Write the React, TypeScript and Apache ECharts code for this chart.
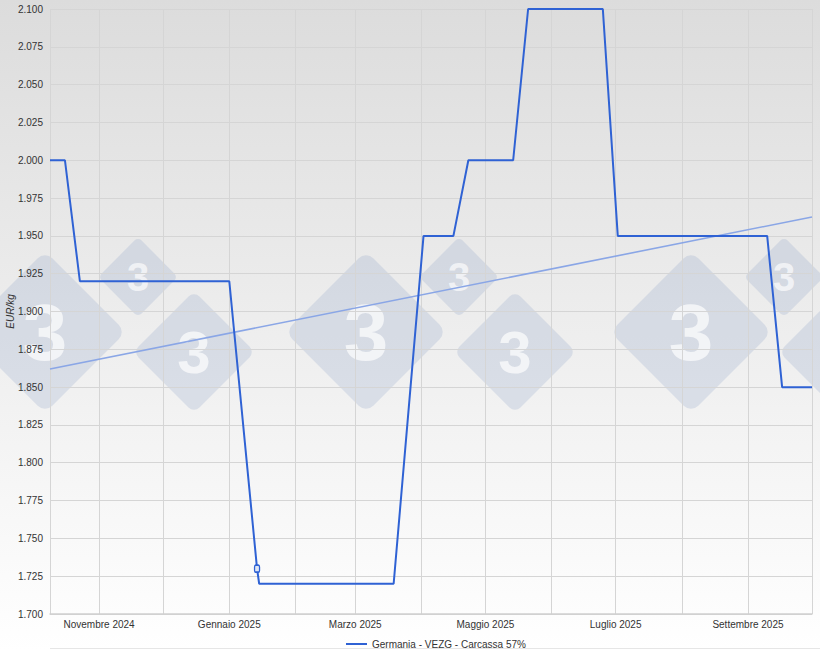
import React, { useEffect, useRef } from "react";
import * as echarts from "echarts";

// VEZG weekly reference price, pig carcass 57% lean (EUR/kg), at each price change
const dates = [
  "2024-10-09", "2024-10-16", "2024-10-23", "2025-01-01", "2025-01-14",
  "2025-01-15", "2025-03-19", "2025-04-02", "2025-04-16", "2025-04-23",
  "2025-05-14", "2025-05-21", "2025-06-25", "2025-07-02", "2025-09-10",
  "2025-09-17", "2025-10-01",
];
const prices = [
  2.0, 2.0, 1.92, 1.92, 1.73,
  1.72, 1.72, 1.95, 1.95, 2.0,
  2.0, 2.1, 2.1, 1.95, 1.95,
  1.85, 1.85,
];

// Linear trend over the period
const trendDates = ["2024-10-09", "2025-10-01"];
const trendValues = [1.862, 1.9625];

const seriesName = "Germania - VEZG - Carcassa 57%";
const yAxisName = "EUR/kg";
const monthNames = [
  "Gennaio", "Febbraio", "Marzo", "Aprile", "Maggio", "Giugno",
  "Luglio", "Agosto", "Settembre", "Ottobre", "Novembre", "Dicembre",
];
const labeledMonths = [10, 0, 2, 4, 6, 8];
const markedDate = "2025-01-14";

const FONT = "'Liberation Sans', Arial, sans-serif";
const CANVAS_W = 820;

// Rounded diamond badge with a "3" mark, used as a background watermark
function diamond(cx: number, cy: number, half: number, fontSize: number) {
  const side = half * Math.SQRT2;
  const children: any[] = [
    {
      type: "rect",
      rotation: Math.PI / 4,
      shape: { x: -side / 2, y: -side / 2, width: side, height: side, r: side * 0.09 },
      style: { fill: "rgba(150,170,205,0.27)" },
      z: -10,
    },
  ];
  if (cx < CANVAS_W - fontSize * 0.3) {
    children.push({
      type: "text",
      x: 0,
      y: 0,
      z: -9,
      style: {
        text: "3",
        fontSize,
        fontWeight: "bold",
        fontFamily: FONT,
        fill: "rgba(255,255,255,0.68)",
        align: "center",
        verticalAlign: "middle",
      },
    });
  }
  return { type: "group", x: cx, y: cy, z: -10, children };
}

function logo(cx: number) {
  return [
    diamond(cx, 332, 81, 80),
    diamond(cx + 93, 277, 40, 40),
    diamond(cx + 149, 352, 61, 60),
  ];
}

export default function App() {
  const ref = useRef<HTMLDivElement>(null);

  useEffect(() => {
    if (!ref.current) return;
    const chart = echarts.init(ref.current, undefined, { renderer: "svg" });

    const mainData = dates.map((d, i) =>
      d === markedDate
        ? {
            value: [d, prices[i]],
            symbol: "roundRect",
            symbolSize: [5, 7],
            itemStyle: { color: "#dfe6f5", borderColor: "#2f62d4", borderWidth: 1.5 },
          }
        : { value: [d, prices[i]] }
    );

    const option = {
      animation: false,
      useUTC: true,
      backgroundColor: {
        type: "linear",
        x: 0,
        y: 0,
        x2: 0,
        y2: 1,
        colorStops: [
          { offset: 0, color: "#dcdcdc" },
          { offset: 1, color: "#ffffff" },
        ],
      },
      textStyle: { fontFamily: FONT },
      graphic: [
        ...logo(45),
        ...logo(366),
        ...logo(691),
        {
          type: "line",
          shape: { x1: 50, y1: 648.5, x2: 820, y2: 648.5 },
          style: { stroke: "#e6e6e6", lineWidth: 1 },
        },
      ],
      grid: {
        left: 50,
        right: 8,
        top: 9,
        bottom: 37,
        containLabel: false,
        outerBoundsMode: "none",
      },
      legend: {
        data: [{ name: seriesName, icon: "rect" }],
        left: 341,
        top: 634,
        itemWidth: 21,
        itemHeight: 2,
        itemGap: 5,
        textStyle: { fontSize: 10, color: "#333", fontFamily: FONT },
      },
      xAxis: {
        type: "time",
        min: dates[0],
        max: dates[dates.length - 1],
        minInterval: 28 * 86400000,
        maxInterval: 31 * 86400000,
        axisLine: { show: true, lineStyle: { color: "#cfcfcf", width: 1.5 } },
        axisTick: { show: false },
        axisLabel: {
          showMinLabel: false,
          showMaxLabel: false,
          margin: 5,
          fontSize: 10,
          color: "#333",
          fontFamily: FONT,
          formatter: (value: number) => {
            const d = new Date(value);
            if (d.getUTCDate() !== 1) return "";
            const m = d.getUTCMonth();
            if (!labeledMonths.includes(m)) return "";
            return monthNames[m] + " " + d.getUTCFullYear();
          },
        },
        splitLine: { show: true, lineStyle: { color: "#d5d5d5", width: 1 } },
      },
      yAxis: {
        type: "value",
        min: 1.7,
        max: 2.1,
        interval: 0.025,
        name: yAxisName,
        nameLocation: "middle",
        nameGap: 35,
        nameMoveOverlap: false,
        nameTextStyle: { fontStyle: "italic", fontSize: 10, color: "#333", fontFamily: FONT },
        axisLine: { show: false },
        axisTick: { show: false },
        axisLabel: {
          margin: 7,
          fontSize: 10,
          color: "#333",
          fontFamily: FONT,
          formatter: (v: number) => v.toFixed(3),
        },
        splitLine: { show: true, lineStyle: { color: "#d5d5d5", width: 1 } },
      },
      series: [
        {
          name: seriesName,
          type: "line",
          data: mainData,
          symbol: "none",
          showSymbol: true,
          lineStyle: { color: "#2f62d4", width: 2 },
          itemStyle: { color: "#2f62d4" },
          z: 3,
        },
        {
          name: "trend",
          type: "line",
          data: trendDates.map((d, i) => [d, trendValues[i]]),
          symbol: "none",
          lineStyle: { color: "#8aa6e6", width: 1.6 },
          z: 2,
        },
      ],
    };

    chart.setOption(option as any);
    return () => chart.dispose();
  }, []);

  return (
    <div
      ref={ref}
      style={{ position: "fixed", left: 0, top: 0, width: 820, height: 651 }}
    />
  );
}
